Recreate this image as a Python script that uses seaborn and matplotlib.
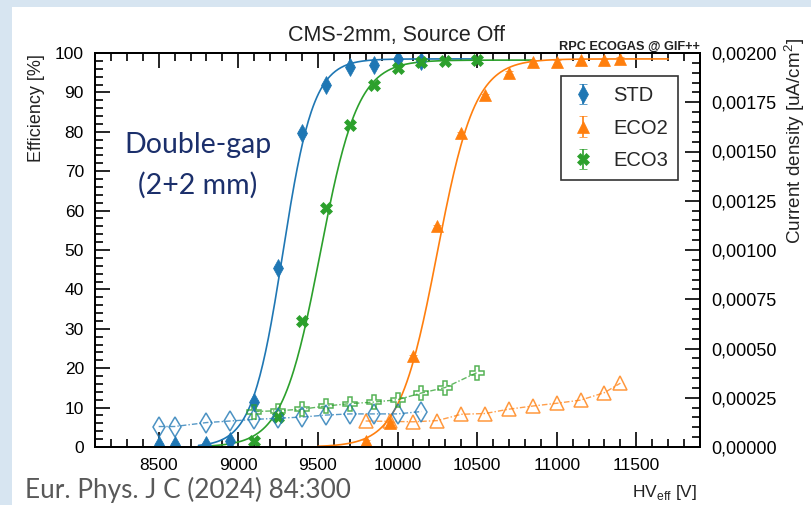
import numpy as np
import pandas as pd
import matplotlib
matplotlib.use("Agg")
import matplotlib.pyplot as plt
from matplotlib.patches import Rectangle
from matplotlib.ticker import MultipleLocator, FixedLocator, FixedFormatter
import seaborn as sns

# ---------------- data ----------------
std_hv = [8500, 8600, 8800, 8950, 9100, 9250, 9400, 9550, 9700, 9850, 10000, 10150]
std_eff = [0.5, 0.5, 0.5, 1.5, 11.5, 45.5, 79.7, 92.0, 96.5, 97.0, 98.5, 98.0]
std_cur = [0.000104, 0.000104, 0.000124, 0.000132, 0.000140, 0.000146,
           0.000152, 0.000162, 0.000168, 0.000168, 0.000168, 0.000180]

eco2_hv = [9800, 9950, 10100, 10250, 10400, 10550, 10700, 10850, 11000, 11150, 11300, 11400]
eco2_eff = [1.5, 6.0, 23.0, 56.0, 79.6, 89.3, 95.0, 97.8, 97.7, 98.2, 98.2, 98.5]
eco2_cur = [0.000132, 0.000130, 0.000128, 0.000134, 0.000166, 0.000170,
            0.000192, 0.000208, 0.000222, 0.000238, 0.000276, 0.000324]

eco3_hv = [9100, 9250, 9400, 9550, 9700, 9850, 10000, 10150, 10300, 10500]
eco3_eff = [1.4, 7.5, 32.0, 60.7, 81.7, 92.0, 96.1, 97.6, 98.0, 98.2]
eco3_cur = [0.000180, 0.000184, 0.000192, 0.000208, 0.000220, 0.000228,
            0.000240, 0.000274, 0.000302, 0.000378]

series_names = ["STD", "ECO2", "ECO3"]
fit_ranges = {"STD": (8750, 10500), "ECO2": (9500, 11700), "ECO3": (8800, 10850)}

x_ticks = [8500, 9000, 9500, 10000, 10500, 11000, 11500]
y_ticks = [0, 10, 20, 30, 40, 50, 60, 70, 80, 90, 100]
y2_ticks = [0.0, 0.00025, 0.0005, 0.00075, 0.001, 0.00125, 0.0015, 0.00175, 0.002]
y2_labels = ["0,00000", "0,00025", "0,00050", "0,00075", "0,00100",
             "0,00125", "0,00150", "0,00175", "0,00200"]

# ---------------- styling ----------------
sns.set_theme(style="ticks")
plt.rcParams["font.family"] = ["Liberation Sans", "DejaVu Sans"]
plt.rcParams["mathtext.fontset"] = "custom"
plt.rcParams["mathtext.rm"] = "Liberation Sans"

colors = {"STD": "#1f77b4", "ECO2": "#ff7f0e", "ECO3": "#2ca02c"}
filled_marker = {"STD": "d", "ECO2": "^", "ECO3": "X"}
open_marker = {"STD": "d", "ECO2": "^", "ECO3": "P"}

data = {
    "STD": (std_hv, std_eff, std_cur),
    "ECO2": (eco2_hv, eco2_eff, eco2_cur),
    "ECO3": (eco3_hv, eco3_eff, eco3_cur),
}


def fit_sigmoid(hv, eff):
    hv = np.asarray(hv, float)
    eff = np.asarray(eff, float)
    emax = eff.max()
    r = eff / (emax * 1.002)
    m = (r > 0.05) & (r < 0.95)
    k, b = np.polyfit(hv[m], np.log(r[m] / (1 - r[m])), 1)
    return emax, k, -b / k


W, H = 812, 505
fig = plt.figure(figsize=(W / 100, H / 100), dpi=100)
fig.patch.set_facecolor("#d7e5f1")
fig.patches.append(Rectangle((12 / W, 0), 1 - 12 / W, 1 - 7 / H, transform=fig.transFigure,
                             facecolor="white", edgecolor="none", zorder=-5))

ax = fig.add_axes([95 / W, 1 - 447 / H, 605 / W, 394 / H])
ax.set_facecolor("white")
ax2 = ax.twinx()

handles = []
for name in series_names:
    hv, eff, cur = data[name]
    c = colors[name]
    # sigmoid fit curve
    emax, k, v50 = fit_sigmoid(hv, eff)
    xs = np.linspace(*fit_ranges[name], 300)
    fit_df = pd.DataFrame({"hv": xs, "eff": emax / (1 + np.exp(-k * (xs - v50)))})
    sns.lineplot(data=fit_df, x="hv", y="eff", ax=ax, color=c, lw=1.2, zorder=3, legend=False)
    # efficiency points
    h = ax.errorbar(hv, eff, yerr=0.4, fmt=filled_marker[name], color=c, ms=9,
                    mew=0.5, elinewidth=1.2, capsize=3, zorder=4)
    handles.append(h)
    # current density
    cur_df = pd.DataFrame({"hv": hv, "cur": cur})
    sns.lineplot(data=cur_df, x="hv", y="cur", ax=ax2, color=c, lw=1.0, alpha=0.75,
                 linestyle=(0, (4, 1.5, 1, 1.5)), zorder=3, legend=False)
    ax2.plot(hv, cur, linestyle="none", marker=open_marker[name], ms=10,
             mfc="none", mec=c, mew=1.1, alpha=0.8, zorder=4)

ax.set_xlim(8100, 11900)
ax.set_ylim(0, 100)
ax2.set_ylim(0, 0.002)

ax.xaxis.set_major_locator(FixedLocator(x_ticks))
ax.set_xticklabels([str(t) for t in x_ticks])
ax.xaxis.set_minor_locator(MultipleLocator(100))
ax.yaxis.set_major_locator(FixedLocator(y_ticks))
ax.set_yticklabels([str(t) for t in y_ticks])
ax.yaxis.set_minor_locator(MultipleLocator(2))
ax2.yaxis.set_major_locator(FixedLocator(y2_ticks))
ax2.yaxis.set_major_formatter(FixedFormatter(y2_labels))
ax2.yaxis.set_minor_locator(MultipleLocator(0.00005))

ax.tick_params(which="both", direction="in", top=True, right=False, colors="black",
               labelsize=12.5, width=1.2, pad=8)
ax.tick_params(which="major", length=11)
ax.tick_params(which="minor", length=6)
ax2.tick_params(which="both", direction="in", right=True, left=False, labelsize=13,
                width=1.2, pad=8, colors="black")
ax2.tick_params(which="major", length=11)
ax2.tick_params(which="minor", length=6)
for a in (ax, ax2):
    for s in a.spines.values():
        s.set_linewidth(1.4)
        s.set_color("black")

ax.set_xlabel("")
ax.set_ylabel("")
ax2.set_ylabel("")
if ax.get_legend() is not None:
    ax.get_legend().remove()

fig.text(37 / W, 1 - 54 / H, "Efficiency [%]", rotation=90, ha="center", va="top",
         fontsize=13, color="#222222")
fig.text(795 / W, 1 - 38 / H, "Current density [uA/cm$^{2}$]", rotation=90, ha="center",
         va="top", fontsize=13.6, color="#222222")
fig.text(697 / W, 1 - 492 / H, r"HV$_{\mathrm{eff}}$ [V]", ha="right", va="center",
         fontsize=12.5, color="#222222")
fig.text(397 / W, 1 - 35 / H, "CMS-2mm, Source Off", ha="center", va="center",
         fontsize=15.5, color="#222222")
fig.text(700 / W, 1 - 47 / H, "RPC ECOGAS @ GIF++", ha="right", va="center",
         fontsize=9.2, fontweight="bold", color="#222222")

fig.text(198 / W, 1 - 145 / H, "Double-gap", ha="center", va="center",
         fontsize=20.5, color="#1b2f6b", family=["Lato", "DejaVu Sans"])
fig.text(198 / W, 1 - 185 / H, "(2+2 mm)", ha="center", va="center",
         fontsize=20.5, color="#1b2f6b", family=["Lato", "DejaVu Sans"])
fig.text(25 / W, 1 - 490 / H, "Eur. Phys. J C (2024) 84:300", ha="left", va="center",
         fontsize=18.8, color="#595959", family=["Lato", "DejaVu Sans"])

leg = ax2.legend(handles, series_names, loc="upper left", bbox_to_anchor=(0.770, 0.942),
                 fontsize=14.5, frameon=True, fancybox=False, edgecolor="black",
                 handlelength=1.2, handletextpad=0.9, labelspacing=0.68, borderpad=0.5,
                 borderaxespad=0)
leg.get_frame().set_linewidth(1.2)

fig.savefig("out.png", dpi=100, facecolor=fig.get_facecolor())
